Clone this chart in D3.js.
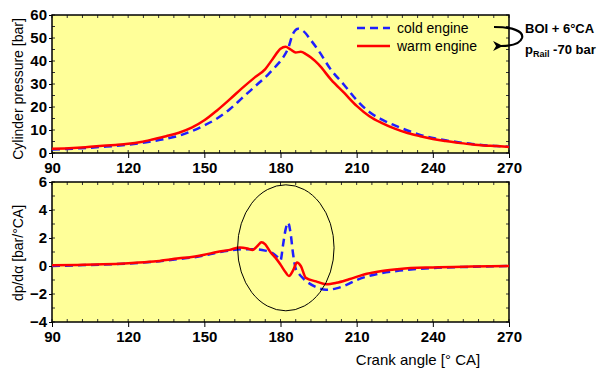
<!DOCTYPE html>
<html>
<head>
<meta charset="utf-8">
<script src="https://cdn.jsdelivr.net/npm/d3@7"></script>
<style>
  body { margin: 0; background: #fff; }
  svg { font-family: Arial, "Liberation Sans", sans-serif; }
</style>
</head>
<body>
<svg id="chart" width="605" height="370"></svg>
<script>
// crank angle ticks
const xTicks = [90, 120, 150, 180, 210, 240, 270];
const pTicks = [0, 10, 20, 30, 40, 50, 60];
const dTicks = [-4, -2, 0, 2, 4, 6];

// cylinder pressure [bar]
const coldAngle = [90, 95, 100, 105, 110, 115, 120, 125, 130, 135, 140, 145, 150, 155, 160, 165, 170, 175, 178, 181, 183, 185, 187, 189, 192, 195, 200, 205, 210, 215, 220, 225, 230, 235, 240, 245, 250, 255, 260, 265, 270];
const coldP = [1.5, 1.7, 2.0, 2.3, 2.7, 3.1, 3.6, 4.3, 5.2, 6.2, 7.5, 9.5, 12.0, 15.0, 19.0, 24.0, 29.0, 34.0, 37.5, 41.5, 45.5, 52.0, 54.0, 53.0, 49.0, 44.5, 36.0, 29.7, 23.0, 17.8, 14.5, 12.0, 9.8, 7.9, 6.5, 5.5, 4.7, 4.0, 3.4, 3.0, 2.7];

const warmAngle = [90, 95, 100, 105, 110, 115, 120, 125, 130, 135, 140, 145, 150, 155, 160, 165, 170, 174, 177, 180, 182, 184, 186, 188, 190, 192, 195, 200, 205, 210, 215, 220, 225, 230, 235, 240, 245, 250, 255, 260, 265, 270];
const warmP = [1.8, 2.0, 2.3, 2.7, 3.1, 3.5, 4.0, 4.8, 6.0, 7.3, 8.8, 11.0, 14.2, 18.5, 23.3, 28.3, 33.0, 36.5, 41.0, 45.3, 46.2, 45.0, 43.7, 44.0, 43.0, 41.5, 38.5, 31.8, 26.2, 20.5, 16.0, 13.0, 10.6, 8.7, 7.3, 6.1, 5.2, 4.4, 3.8, 3.3, 3.0, 2.6];

// dp/dalpha [bar/°CA]
const coldDAngle = [90, 100, 110, 120, 130, 140, 145, 150, 155, 160, 165, 170, 174, 177, 179, 180, 181, 182, 183, 184, 185, 186, 187, 189, 191, 194, 198, 202, 206, 210, 215, 220, 227, 235, 240, 250, 260, 270];
const coldD = [0.0, 0.05, 0.1, 0.18, 0.3, 0.5, 0.6, 0.75, 0.95, 1.1, 1.2, 1.2, 1.1, 0.9, 0.6, 0.4, 1.5, 2.6, 3.1, 2.3, 0.8, -0.2, -0.5, -0.9, -1.2, -1.5, -1.7, -1.6, -1.35, -1.0, -0.7, -0.5, -0.33, -0.2, -0.14, -0.08, -0.04, 0.0];

const warmDAngle = [90, 100, 110, 120, 130, 140, 145, 150, 155, 160, 164, 167, 169, 171, 172.5, 174, 176, 178, 180, 182, 183.3, 185, 186.5, 188, 190, 194, 198, 202, 207, 214, 220, 227, 240, 255, 270];
const warmD = [0.05, 0.08, 0.12, 0.2, 0.32, 0.55, 0.65, 0.8, 1.0, 1.15, 1.33, 1.25, 1.15, 1.45, 1.7, 1.55, 1.0, 0.6, 0.1, -0.45, -0.72, -0.3, 0.25, 0.0, -0.85, -1.1, -1.3, -1.2, -0.95, -0.55, -0.35, -0.21, -0.1, -0.04, 0.0];

const seriesNames = ["cold engine", "warm engine"];

const svg = d3.select("#chart");
const left = 52, right = 509;

const x = d3.scaleLinear().domain([90, 270]).range([left, right]);
const yP = d3.scaleLinear().domain([0, 60]).range([153, 15]);
const yD = d3.scaleLinear().domain([-4, 6]).range([322, 182]);

function drawPanel(y, ticks, minorStep, clipId) {
  const [y0, y1] = y.domain();
  const g = svg.append("g");
  g.append("rect")
    .attr("x", left).attr("y", y.range()[1])
    .attr("width", right - left).attr("height", y.range()[0] - y.range()[1])
    .attr("fill", "#ffff99");

  svg.append("clipPath").attr("id", clipId)
    .append("rect")
    .attr("x", left).attr("y", y.range()[1] - 2)
    .attr("width", right - left + 2).attr("height", y.range()[0] - y.range()[1] + 4);

  // minor ticks (inward)
  const minorX = d3.range(90, 270.01, 6);
  const minorY = d3.range(y0, y1 + 0.001, minorStep);
  g.selectAll(".mxt").data(minorX).join("line")
    .attr("x1", d => x(d)).attr("x2", d => x(d))
    .attr("y1", y.range()[1]).attr("y2", y.range()[1] + 3)
    .attr("stroke", "#333").attr("stroke-width", 1);
  g.selectAll(".mxb").data(minorX).join("line")
    .attr("x1", d => x(d)).attr("x2", d => x(d))
    .attr("y1", y.range()[0]).attr("y2", y.range()[0] - 3)
    .attr("stroke", "#333").attr("stroke-width", 1);
  g.selectAll(".myl").data(minorY).join("line")
    .attr("x1", left).attr("x2", left + 3)
    .attr("y1", d => y(d)).attr("y2", d => y(d))
    .attr("stroke", "#333").attr("stroke-width", 1);
  g.selectAll(".myr").data(minorY).join("line")
    .attr("x1", right).attr("x2", right - 3)
    .attr("y1", d => y(d)).attr("y2", d => y(d))
    .attr("stroke", "#333").attr("stroke-width", 1);

  // major ticks + labels
  const xAxis = d3.axisBottom(x).tickValues(xTicks).tickSize(5).tickPadding(4);
  const gx = g.append("g").attr("transform", `translate(0,${y.range()[0]})`).call(xAxis);
  const yAxis = d3.axisLeft(y).tickValues(ticks).tickSize(3).tickPadding(2);
  const gy = g.append("g").attr("transform", `translate(${left},0)`).call(yAxis);
  [gx, gy].forEach(a => {
    a.select(".domain").remove();
    a.selectAll("line").attr("stroke", "#000");
    a.selectAll("text")
      .attr("fill", "#000")
      .style("font-family", "Arial, 'Liberation Sans', sans-serif")
      .style("font-size", "15px")
      .style("font-weight", "bold");
  });

  g.append("rect")
    .attr("x", left).attr("y", y.range()[1])
    .attr("width", right - left).attr("height", y.range()[0] - y.range()[1])
    .attr("fill", "none").attr("stroke", "#000").attr("stroke-width", 1.5);
  return g;
}

drawPanel(yP, pTicks, 5, "clipP");
drawPanel(yD, dTicks, 1, "clipD");

function drawLine(xs, ys, y, color, dash, clipId) {
  const pts = xs.map((a, i) => [a, ys[i]]);
  const line = d3.line()
    .x(d => x(d[0])).y(d => y(d[1]))
    .curve(d3.curveMonotoneX);
  svg.append("path")
    .datum(pts)
    .attr("clip-path", `url(#${clipId})`)
    .attr("d", line)
    .attr("fill", "none")
    .attr("stroke", color)
    .attr("stroke-width", 2.5)
    .attr("stroke-dasharray", dash);
}

const blue = "#1f1fff", red = "#ff0000";
drawLine(coldAngle, coldP, yP, blue, "8,5", "clipP");
drawLine(warmAngle, warmP, yP, red, null, "clipP");
drawLine(coldDAngle, coldD, yD, blue, "8,5", "clipD");
drawLine(warmDAngle, warmD, yD, red, null, "clipD");

// ellipse around the knock region
svg.append("ellipse")
  .attr("cx", x(182.1)).attr("cy", yD(1.3))
  .attr("rx", x(182.1 + 19) - x(182.1))
  .attr("ry", yD(1.3 - 4.5) - yD(1.3))
  .attr("fill", "none").attr("stroke", "#000").attr("stroke-width", 1);

// legend
const legend = svg.append("g").attr("transform", "translate(357,28)");
seriesNames.forEach((name, i) => {
  const row = legend.append("g").attr("transform", `translate(0,${i * 18})`);
  row.append("line")
    .attr("x1", 0).attr("x2", 33).attr("y1", 0).attr("y2", 0)
    .attr("stroke", i === 0 ? blue : red)
    .attr("stroke-width", 2.5)
    .attr("stroke-dasharray", i === 0 ? "8,5" : null);
  row.append("text")
    .attr("x", 40).attr("y", 5)
    .style("font-size", "14px")
    .text(name);
});

// annotation with curved arrow
svg.append("defs").append("marker")
  .attr("id", "arrow").attr("viewBox", "0 0 10 10")
  .attr("refX", 2).attr("refY", 5)
  .attr("markerWidth", 4.5).attr("markerHeight", 4.5)
  .attr("orient", "auto")
  .append("path").attr("d", "M0,5 L10,0 L7,5 L10,10 Z").attr("fill", "#000");

svg.append("path")
  .attr("d", "M494,27 C512,27 524,31 522,38 C520,44 510,46 501,46")
  .attr("fill", "none").attr("stroke", "#000").attr("stroke-width", 2.2)
  .attr("marker-end", "url(#arrow)");

svg.append("text")
  .attr("x", 525).attr("y", 33)
  .style("font-size", "13px").style("font-weight", "bold")
  .text("BOI + 6°CA");
const t2 = svg.append("text")
  .attr("x", 525).attr("y", 54)
  .style("font-size", "13px").style("font-weight", "bold");
t2.append("tspan").text("p");
t2.append("tspan").attr("dy", 3).style("font-size", "9px").text("Rail");
t2.append("tspan").attr("dy", -3).text(" -70 bar");

// axis titles
svg.append("text")
  .attr("transform", "translate(23,89) rotate(-90)")
  .attr("text-anchor", "middle")
  .style("font-size", "14px")
  .text("Cylinder pressure [bar]");
svg.append("text")
  .attr("transform", "translate(23,253) rotate(-90)")
  .attr("text-anchor", "middle")
  .style("font-size", "14px")
  .text("dp/dα [bar/°CA]");
svg.append("text")
  .attr("x", 418).attr("y", 365)
  .attr("text-anchor", "middle")
  .style("font-size", "15px")
  .text("Crank angle [° CA]");
</script>
</body>
</html>
